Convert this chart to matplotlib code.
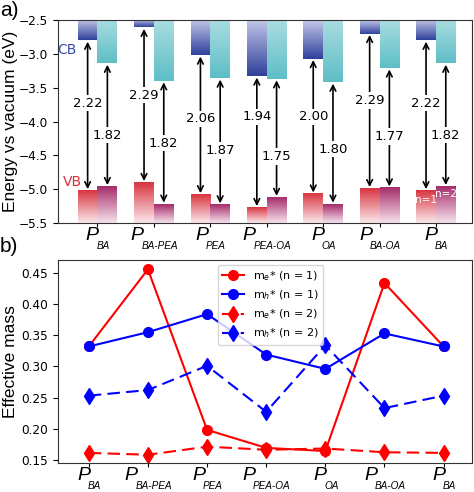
import numpy as np
import matplotlib
matplotlib.use('Agg')
import matplotlib.pyplot as plt
from matplotlib.colors import LinearSegmentedColormap
from matplotlib.font_manager import FontProperties
from matplotlib.textpath import TextPath

plt.rcParams['mathtext.fontset'] = 'custom'
plt.rcParams['mathtext.rm'] = 'DejaVu Sans'
plt.rcParams['mathtext.it'] = 'DejaVu Sans:italic'

# sample names: P with these subscripts
sample_subs = ['BA', 'BA-PEA', 'PEA', 'PEA-OA', 'OA', 'BA-OA', 'BA']

# panel a: band edges (eV vs vacuum)
cb1 = [-2.80, -2.61, -3.02, -3.33, -3.07, -2.70, -2.80]
vb1 = [-5.02, -4.90, -5.08, -5.27, -5.07, -4.99, -5.02]
cb2 = [-3.14, -3.40, -3.36, -3.37, -3.42, -3.21, -3.14]
vb2 = [-4.96, -5.22, -5.23, -5.12, -5.22, -4.98, -4.96]
gap1 = ['2.22', '2.29', '2.06', '1.94', '2.00', '2.29', '2.22']
gap2 = ['1.82', '1.82', '1.87', '1.75', '1.80', '1.77', '1.82']
gap1_y = [-3.73, -3.61, -3.96, -3.93, -3.93, -3.69, -3.73]
gap2_y = [-4.20, -4.32, -4.43, -4.52, -4.41, -4.22, -4.20]

# panel b: effective masses
me1 = [0.332, 0.456, 0.198, 0.169, 0.164, 0.434, 0.332]
mh1 = [0.332, 0.355, 0.384, 0.319, 0.296, 0.353, 0.332]
me2 = [0.161, 0.158, 0.171, 0.166, 0.168, 0.162, 0.161]
mh2 = [0.253, 0.262, 0.301, 0.227, 0.334, 0.233, 0.253]

x = np.arange(len(sample_subs))
w = 0.35
ylo, yhi = -5.5, -2.5

fig = plt.figure(figsize=(4.74, 4.92), dpi=100)
axa = fig.add_axes([0.1224, 0.5467, 0.8734, 0.4126])
axb = fig.add_axes([0.1224, 0.0589, 0.8734, 0.4126])


def grad_bar(ax, x0, x1, y0, y1, c0, c1):
    # vertical gradient: c0 at y0, c1 at y1
    cmap = LinearSegmentedColormap.from_list('g', [c0, c1])
    g = np.linspace(0, 1, 256).reshape(-1, 1)
    ax.imshow(g, cmap=cmap, origin='lower', aspect='auto',
              extent=(x0, x1, y0, y1), zorder=1, interpolation='bilinear')


def sample_ticks(ax):
    # big italic P with a small italic subscript, centred on each tick
    ax.set_xticks(x)
    ax.set_xticklabels([])
    ax.tick_params(axis='x', length=3)
    fp_big = FontProperties(family='Liberation Sans', style='italic', size=14)
    fp_sub = FontProperties(family='Liberation Sans', style='italic', size=7.2)
    tr = ax.get_xaxis_transform()
    for i, sub in enumerate(sample_subs):
        wp = TextPath((0, 0), 'P', prop=fp_big).get_extents().width
        ws = TextPath((0, 0), sub, prop=fp_sub).get_extents().width
        x0 = -(wp + ws - 1.0) / 2
        ax.annotate('P', xy=(i, 0), xycoords=tr, xytext=(x0, -3.0),
                    textcoords='offset points', ha='left', va='top',
                    fontproperties=fp_big, annotation_clip=False)
        ax.annotate(sub, xy=(i, 0), xycoords=tr, xytext=(x0 + wp - 1.0, -13.0),
                    textcoords='offset points', ha='left', va='top',
                    fontproperties=fp_sub, annotation_clip=False)


for i in x:
    grad_bar(axa, i - w, i, cb1[i], yhi, '#2f409c', '#c4c8e8')
    grad_bar(axa, i, i + w, cb2[i], yhi, '#5ebec6', '#aadde1')
    grad_bar(axa, i - w, i, ylo, vb1[i], '#fbe9ed', '#d8343f')
    grad_bar(axa, i, i + w, ylo, vb2[i], '#f6e3ec', '#a52b6b')
    for xc, cb, vb, lab, ly in [(i - w / 2, cb1[i], vb1[i], gap1[i], gap1_y[i]),
                                (i + w / 2, cb2[i], vb2[i], gap2[i], gap2_y[i])]:
        axa.annotate('', xy=(xc, vb), xytext=(xc, cb),
                     arrowprops=dict(arrowstyle='<->', lw=1.2, color='k',
                                     shrinkA=1, shrinkB=1), zorder=3)
        axa.text(xc, ly, lab, ha='center', va='center', fontsize=9.5, zorder=4,
                 bbox=dict(fc='white', ec='none', pad=1.2))

axa.text(-w - 0.02, -2.94, 'CB', color='#3a4fa8', fontsize=10, ha='right', va='center')
axa.text(-w + 0.08, -4.90, 'VB', color='#d8303c', fontsize=10, ha='right', va='center')
axa.text(6 - w / 2, -5.16, 'n=1', color='white', fontsize=7.5, ha='center', va='center')
axa.text(6 + w / 2, -5.07, 'n=2', color='white', fontsize=7.5, ha='center', va='center')

axa.set_xlim(-0.7, 6.64)
axa.set_ylim(ylo, yhi)
axa.set_yticks(np.arange(-5.5, -2.49, 0.5))
sample_ticks(axa)
axa.set_ylabel('Energy vs vacuum (eV)', fontsize=12.5, family='Liberation Sans')
axa.yaxis.set_label_coords(-0.097, 0.5)
axa.tick_params(axis='y', labelsize=8.7)

# panel b
axb.plot(x, me1, '-', color='red', marker='o', ms=7, lw=1.5, label=r'm$_e$* (n = 1)')
axb.plot(x, mh1, '-', color='blue', marker='o', ms=7, lw=1.5, label=r'm$_h$* (n = 1)')
axb.plot(x, me2, color='red', ls=(0, (6, 3)), marker='d', ms=8, lw=1.5, label=r'm$_e$* (n = 2)')
axb.plot(x, mh2, color='blue', ls=(0, (6, 3)), marker='d', ms=8, lw=1.5, label=r'm$_h$* (n = 2)')
axb.set_xlim(-0.52, 6.48)
axb.set_ylim(0.1447, 0.471)
yt = np.arange(0.15, 0.451, 0.05)
axb.set_yticks(yt)
axb.set_yticklabels(['%.2f' % v for v in yt])
sample_ticks(axb)
axb.set_ylabel('Effective mass', fontsize=12.5, family='Liberation Sans')
axb.yaxis.set_label_coords(-0.097, 0.5)
axb.tick_params(axis='y', labelsize=8.7)
axb.legend(loc='upper left', bbox_to_anchor=(0.386, 0.976), borderaxespad=0,
           fontsize=8, handlelength=2.0)

for ax in (axa, axb):
    for s in ax.spines.values():
        s.set_color('#333333')

fig.text(0.0, 0.998, 'a)', fontsize=15, family='Liberation Sans', va='top', ha='left')
fig.text(0.0, 1 - 237 / 492, 'b)', fontsize=15, family='Liberation Sans', va='top', ha='left')

fig.savefig('out.png', dpi=100)
